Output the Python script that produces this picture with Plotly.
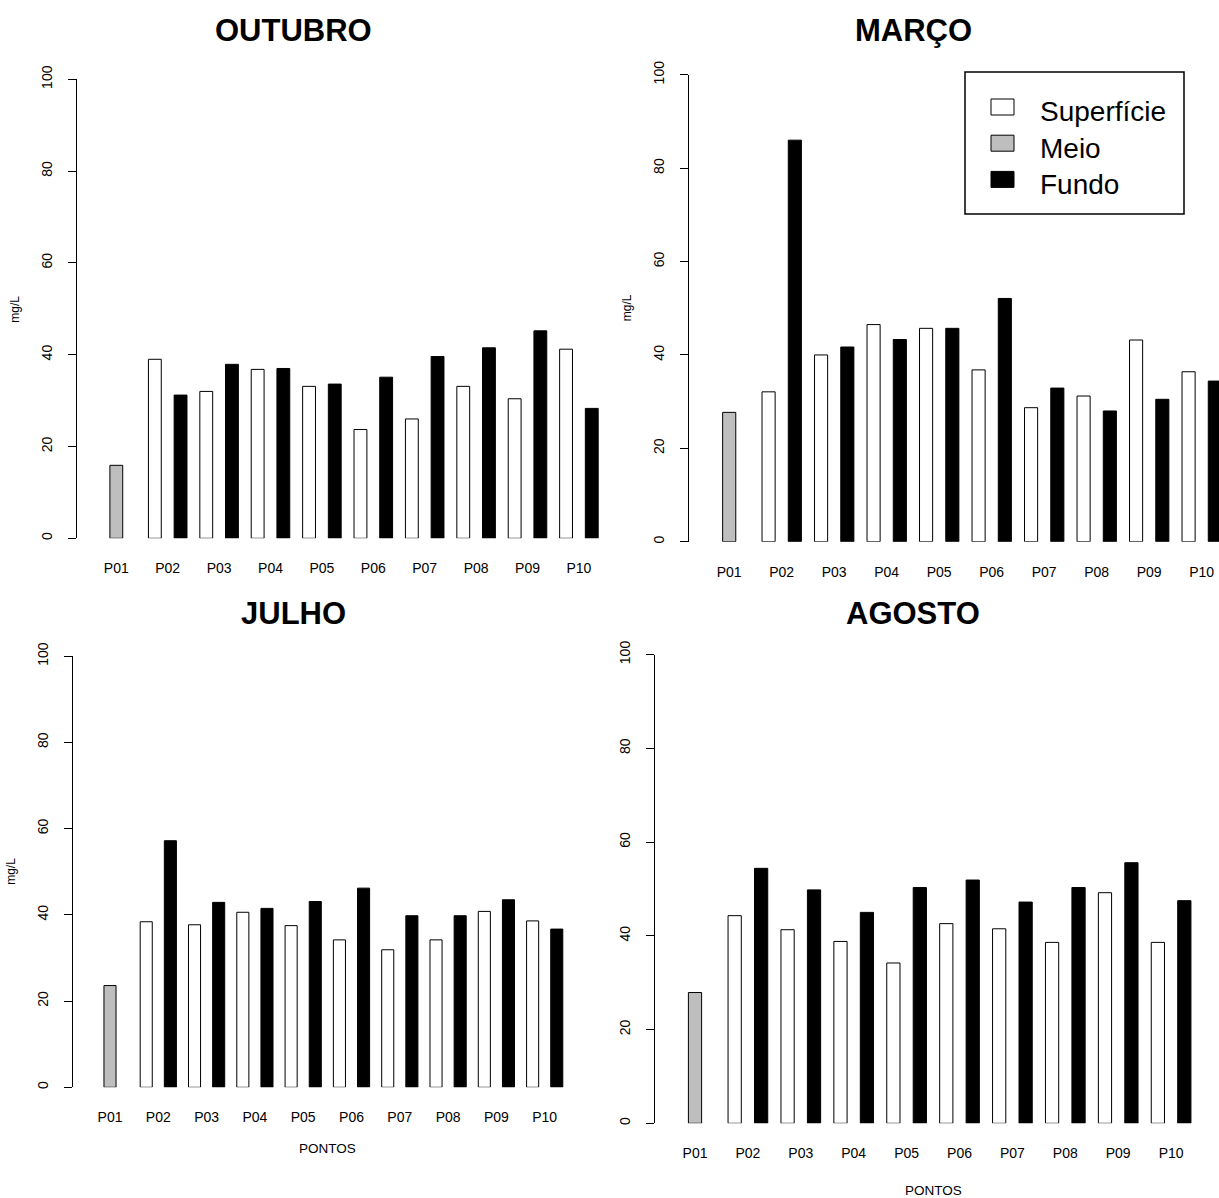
import plotly.graph_objects as go

# ---- data (mg/L) ----
pontos = ["P01", "P02", "P03", "P04", "P05", "P06", "P07", "P08", "P09", "P10"]
series_names = ["Superfície", "Meio", "Fundo"]

outubro_sup = [None, 39.0, 32.0, 36.8, 33.1, 23.7, 26.0, 33.1, 30.4, 41.2]
outubro_meio = [15.9, None, None, None, None, None, None, None, None, None]
outubro_fundo = [None, 31.2, 37.9, 37.0, 33.6, 35.1, 39.6, 41.5, 45.2, 28.3]

marco_sup = [None, 32.1, 40.0, 46.5, 45.7, 36.8, 28.7, 31.2, 43.2, 36.4]
marco_meio = [27.7, None, None, None, None, None, None, None, None, None]
marco_fundo = [None, 86.0, 41.7, 43.3, 45.7, 52.1, 32.9, 28.0, 30.5, 34.4]

julho_sup = [None, 38.4, 37.7, 40.6, 37.5, 34.2, 31.9, 34.2, 40.8, 38.6]
julho_meio = [23.6, None, None, None, None, None, None, None, None, None]
julho_fundo = [None, 57.2, 42.9, 41.5, 43.1, 46.2, 39.8, 39.8, 43.5, 36.7]

agosto_sup = [None, 44.3, 41.3, 38.8, 34.2, 42.6, 41.5, 38.6, 49.2, 38.6]
agosto_meio = [27.9, None, None, None, None, None, None, None, None, None]
agosto_fundo = [None, 54.4, 49.8, 45.0, 50.3, 51.9, 47.2, 50.3, 55.6, 47.5]

y_ticks = [0, 20, 40, 60, 80, 100]

# ---- page geometry ----
W, H = 1219, 1198
FONT = "Liberation Sans, Arial, Helvetica, sans-serif"
FILLS = ["#FFFFFF", "#BEBEBE", "#000000"]
OFFSETS = [-0.375, -0.125, 0.125]   # Superfície | Meio | Fundo slots in each group
BAR_W = 0.25


def px(x):
    return x / W


def py(y):
    return 1 - y / H


# per panel: series, title and its centre, first group centre (px), group pitch (px),
# pixel rows of 0 and 100, and which axis titles it carries
panels = [
    dict(data=(outubro_sup, outubro_meio, outubro_fundo), title="OUTUBRO", tx=293, ty=30,
         c0=116.3, pitch=51.4, y0=538.3, y100=79.3, ylab=True, xlab=None),
    dict(data=(marco_sup, marco_meio, marco_fundo), title="MARÇO", tx=913, ty=30,
         c0=729.2, pitch=52.5, y0=541.7, y100=74.8, ylab=True, xlab=None),
    dict(data=(julho_sup, julho_meio, julho_fundo), title="JULHO", tx=293, ty=613,
         c0=110.0, pitch=48.3, y0=1087.3, y100=656.2, ylab=True, xlab=61),
    dict(data=(agosto_sup, agosto_meio, agosto_fundo), title="AGOSTO", tx=913, ty=614,
         c0=695.0, pitch=52.9, y0=1123.3, y100=654.6, ylab=False, xlab=67),
]

fig = go.Figure()
annotations = []
shapes = []
x_idx = list(range(len(pontos)))

for k, p in enumerate(panels, start=1):
    xa = "x" if k == 1 else f"x{k}"
    ya = "y" if k == 1 else f"y{k}"
    for vals, name, fill, off in zip(p["data"], series_names, FILLS, OFFSETS):
        fig.add_trace(go.Bar(
            x=x_idx, y=vals, name=name, width=BAR_W, offset=off,
            marker=dict(color=fill, line=dict(color="#000000", width=1)),
            xaxis=xa, yaxis=ya, showlegend=False,
        ))

    # x range: 4 % padding around the bars, clipped at the page edge
    span = 9.75
    x_lo = -0.375 - 0.04 * span
    x_hi = 9.375 + 0.04 * span
    left_px = p["c0"] + x_lo * p["pitch"]
    right_px = p["c0"] + x_hi * p["pitch"]
    if right_px > W:
        right_px = W
        x_hi = (W - p["c0"]) / p["pitch"]

    xkey = "xaxis" if k == 1 else f"xaxis{k}"
    ykey = "yaxis" if k == 1 else f"yaxis{k}"
    fig.layout[xkey] = dict(
        domain=[px(left_px), px(right_px)], range=[x_lo, x_hi], anchor=ya,
        tickmode="array", tickvals=x_idx, ticktext=pontos,
        showline=False, showgrid=False, zeroline=False, ticks="",
        tickfont=dict(family=FONT, size=14, color="#000000"),
        ticklabelstandoff=20, fixedrange=True, automargin=False,
    )
    fig.layout[ykey] = dict(
        domain=[py(p["y0"]), py(p["y100"])], range=[0, 100], anchor=xa,
        tickmode="array", tickvals=y_ticks, ticktext=[str(v) for v in y_ticks],
        tickangle=-90, showline=True, linecolor="#000000", linewidth=1,
        ticks="outside", ticklen=8, tickwidth=1, tickcolor="#000000",
        showgrid=False, zeroline=False,
        tickfont=dict(family=FONT, size=14, color="#000000"),
        ticklabelstandoff=10, fixedrange=True, automargin=False,
    )

    annotations.append(dict(
        text=f"<b>{p['title']}</b>", x=px(p["tx"]), y=py(p["ty"]),
        xref="paper", yref="paper", xanchor="center", yanchor="middle",
        showarrow=False, font=dict(family=FONT, size=31, color="#000000"),
    ))
    if p["ylab"]:
        annotations.append(dict(
            text="mg/L", x=px(left_px - 62), y=py((p["y0"] + p["y100"]) / 2),
            xref="paper", yref="paper", xanchor="center", yanchor="middle",
            textangle=-90, showarrow=False,
            font=dict(family=FONT, size=12, color="#000000"),
        ))
    if p["xlab"]:
        annotations.append(dict(
            text="PONTOS", x=px(p["c0"] + 4.5 * p["pitch"]), y=py(p["y0"] + p["xlab"]),
            xref="paper", yref="paper", xanchor="center", yanchor="middle",
            showarrow=False, font=dict(family=FONT, size=13.5, color="#000000"),
        ))

# ---- legend box in the MARÇO panel ----
shapes.append(dict(type="rect", xref="paper", yref="paper",
                   x0=px(965), x1=px(1184), y0=py(214), y1=py(72),
                   line=dict(color="#000000", width=1.5), fillcolor="#FFFFFF"))
for i, (name, fill) in enumerate(zip(series_names, FILLS)):
    cy = 107 + 36.2 * i
    shapes.append(dict(type="rect", xref="paper", yref="paper",
                       x0=px(991), x1=px(1014), y0=py(cy + 8), y1=py(cy - 8),
                       line=dict(color="#000000", width=1), fillcolor=fill))
    annotations.append(dict(
        text=name, x=px(1038), y=py(cy + 5), xref="paper", yref="paper",
        xanchor="left", yanchor="middle", showarrow=False,
        font=dict(family=FONT, size=28, color="#000000"),
    ))

fig.update_layout(
    width=W, height=H, margin=dict(l=0, r=0, t=0, b=0, pad=0, autoexpand=False),
    paper_bgcolor="#FFFFFF", plot_bgcolor="#FFFFFF",
    barmode="overlay", annotations=annotations, shapes=shapes,
    showlegend=False,
)

fig.write_html("out.html", config={"displayModeBar": False})
